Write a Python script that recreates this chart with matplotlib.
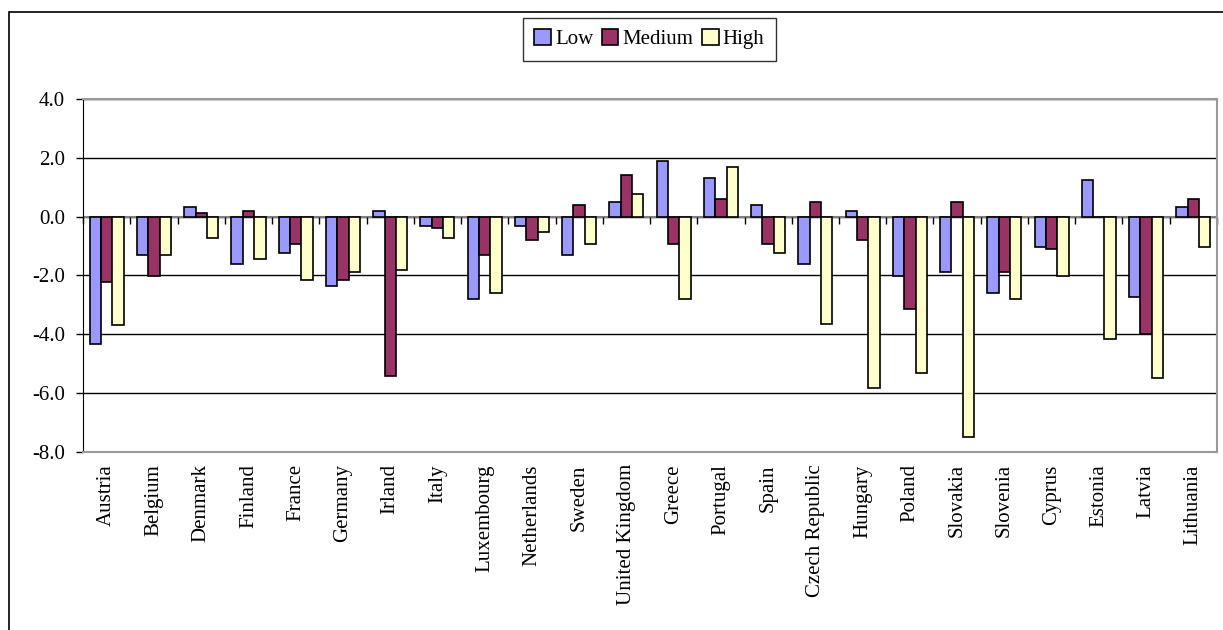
import numpy as np
import matplotlib.pyplot as plt
from matplotlib.patches import Rectangle

countries = ['Austria', 'Belgium', 'Denmark', 'Finland', 'France', 'Germany', 'Irland',
             'Italy', 'Luxembourg', 'Netherlands', 'Sweden', 'United Kingdom', 'Greece',
             'Portugal', 'Spain', 'Czech Republic', 'Hungary', 'Poland', 'Slovakia',
             'Slovenia', 'Cyprus', 'Estonia', 'Latvia', 'Lithuania']
low = [-4.34, -1.30, 0.32, -1.63, -1.24, -2.35, 0.20, -0.32, -2.80, -0.32, -1.30, 0.51,
       1.88, 1.30, 0.39, -1.63, 0.20, -2.01, -1.89, -2.59, -1.05, 1.24, -2.73, 0.32]
medium = [-2.22, -2.01, 0.11, 0.20, -0.92, -2.15, -5.43, -0.40, -1.30, -0.80, 0.39, 1.42,
          -0.92, 0.59, -0.92, 0.51, -0.80, -3.13, 0.51, -1.89, -1.11, 0.0, -4.01, 0.59]
high = [-3.69, -1.30, -0.72, -1.44, -2.15, -1.89, -1.82, -0.72, -2.59, -0.53, -0.92, 0.76,
        -2.80, 1.68, -1.24, -3.64, -5.82, -5.32, -7.51, -2.80, -2.01, -4.15, -5.49, -1.03]

plt.rcParams['font.family'] = ['Liberation Serif', 'DejaVu Serif']

fig = plt.figure(figsize=(12.23, 6.30), dpi=100)
ax = fig.add_axes([0.068, 0.283, 0.927, 0.560])

x = np.arange(len(countries))
w = 0.24
ax.bar(x - w, low, w, color='#9999FF', edgecolor='black', linewidth=1.2, label='Low', zorder=3)
ax.bar(x, medium, w, color='#993366', edgecolor='black', linewidth=1.2, label='Medium', zorder=3)
ax.bar(x + w, high, w, color='#FFFFCC', edgecolor='black', linewidth=1.2, label='High', zorder=3)

ax.set_xlim(-0.5, len(countries) - 0.5)
ax.set_ylim(-8, 4)
yt = np.arange(-8, 4.1, 2)
ax.set_yticks(yt)
ax.set_yticklabels(['%.1f' % v for v in yt], fontsize=15)
ax.yaxis.grid(True, color='black', linewidth=1, zorder=0)
ax.set_xticks(x)
ax.set_xticklabels(countries, rotation=90, fontsize=15)
ax.tick_params(axis='x', length=0, pad=9)
ax.tick_params(axis='y', length=5, width=1, direction='out', color='black', pad=8)

# category axis at zero with small boundary ticks pointing down
ax.axhline(0, color='gray', linewidth=1.5, zorder=2)
bounds = np.arange(len(countries) + 1) - 0.5
ax.plot(bounds, np.zeros_like(bounds), linestyle='none', marker=3, markersize=5,
        markeredgewidth=1, color='black', zorder=2, clip_on=False)
for s in ['top', 'right', 'bottom']:
    ax.spines[s].set_color('#999999')
    ax.spines[s].set_linewidth(1.5)
ax.spines['left'].set_color('black')

fig.legend(loc='upper center', bbox_to_anchor=(0.531, 0.972), ncol=3, fontsize=15,
           frameon=True, fancybox=False, edgecolor='black', handlelength=0.8,
           handleheight=0.8, handletextpad=0.2, columnspacing=0.4, borderpad=0.55,
           borderaxespad=0)

fig.patches.append(Rectangle((0.007, -0.05), 1.05, 1.031, transform=fig.transFigure,
                             fill=False, edgecolor='black', linewidth=1.2))

fig.savefig('out.png', dpi=100)
